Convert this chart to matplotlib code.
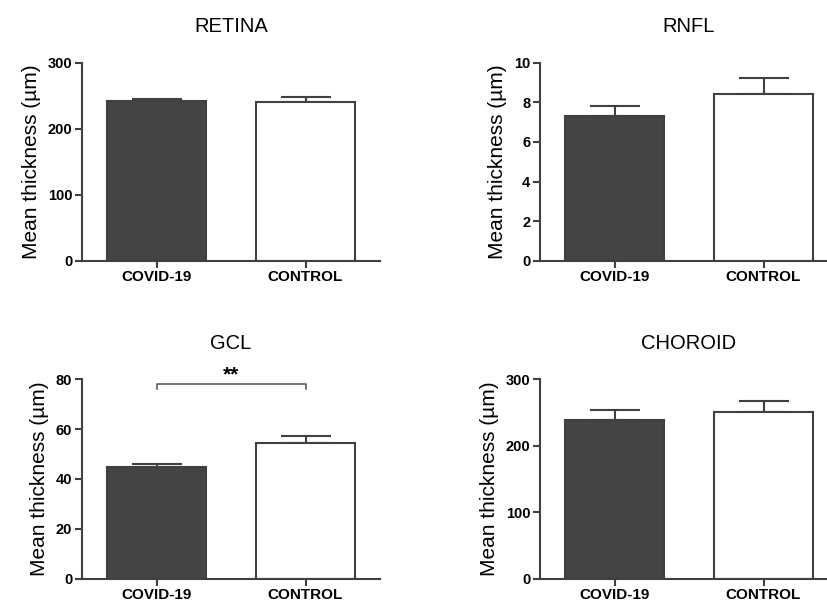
import matplotlib
matplotlib.use("Agg")
import matplotlib.pyplot as plt

plt.rcParams['font.family'] = ['Liberation Sans', 'DejaVu Sans']

groups = ["COVID-19", "CONTROL"]
titles = ["RETINA", "RNFL", "GCL", "CHOROID"]
retina_mean = [242, 240]
retina_err = [3, 8.5]
rnfl_mean = [7.3, 8.4]
rnfl_err = [0.5, 0.85]
gcl_mean = [44.8, 54.5]
gcl_err = [1.4, 2.9]
choroid_mean = [238.5, 251]
choroid_err = [16, 17]
ylims = [300, 10, 80, 300]
yticks = [[0, 100, 200, 300], [0, 2, 4, 6, 8, 10], [0, 20, 40, 60, 80], [0, 100, 200, 300]]

means = [retina_mean, rnfl_mean, gcl_mean, choroid_mean]
errs = [retina_err, rnfl_err, gcl_err, choroid_err]

W, H = 827, 601
fig = plt.figure(figsize=(W / 100, H / 100), dpi=100)

lc = '#404040'
positions = [
    (82, 260.7, 62.7),
    (540, 260.7, 62.7),
    (82, 578.7, 379.3),
    (540, 578.7, 379.3),
]
axw = 298

for i, (x0, yb, yt) in enumerate(positions):
    ax = fig.add_axes([x0 / W, 1 - yb / H, axw / W, (yb - yt) / H])
    xs = [0, 1]
    ax.bar(xs, means[i], width=0.67, color=['#444444', 'white'], edgecolor=lc, linewidth=1.5, zorder=2)
    for x, m, e in zip(xs, means[i], errs[i]):
        ax.errorbar([x], [m], yerr=[[0], [e]], fmt='none', ecolor=lc, elinewidth=1.5,
                    capsize=18, capthick=1.5, zorder=1)
    ax.set_xlim(-0.5, 1.5)
    ax.set_ylim(0, ylims[i])
    ax.set_yticks(yticks[i])
    ax.set_xticks(xs)
    ax.set_xticklabels(groups, fontweight='bold', fontsize=11)
    for lab in ax.get_yticklabels():
        lab.set_fontweight('bold')
        lab.set_fontsize(10.5)
    ax.spines['top'].set_visible(False)
    ax.spines['right'].set_visible(False)
    for s in ['left', 'bottom']:
        ax.spines[s].set_color(lc)
        ax.spines[s].set_linewidth(1.5)
    ax.tick_params(axis='both', colors=lc, width=1.5, length=5, labelcolor='black', pad=2)
    ax.set_ylabel("Mean thickness (µm)", fontsize=15, labelpad=5)
    ax.set_title(titles[i], fontsize=14.5, pad=22)
    if titles[i] == "GCL":
        ax.plot([0, 0, 1, 1], [76, 78, 78, 76], color='#505050', linewidth=1.1, clip_on=False)
        ax.text(0.5, 78.0, "**", ha='center', va='bottom', fontsize=15, fontweight='bold')

fig.savefig("out.png", dpi=100)
